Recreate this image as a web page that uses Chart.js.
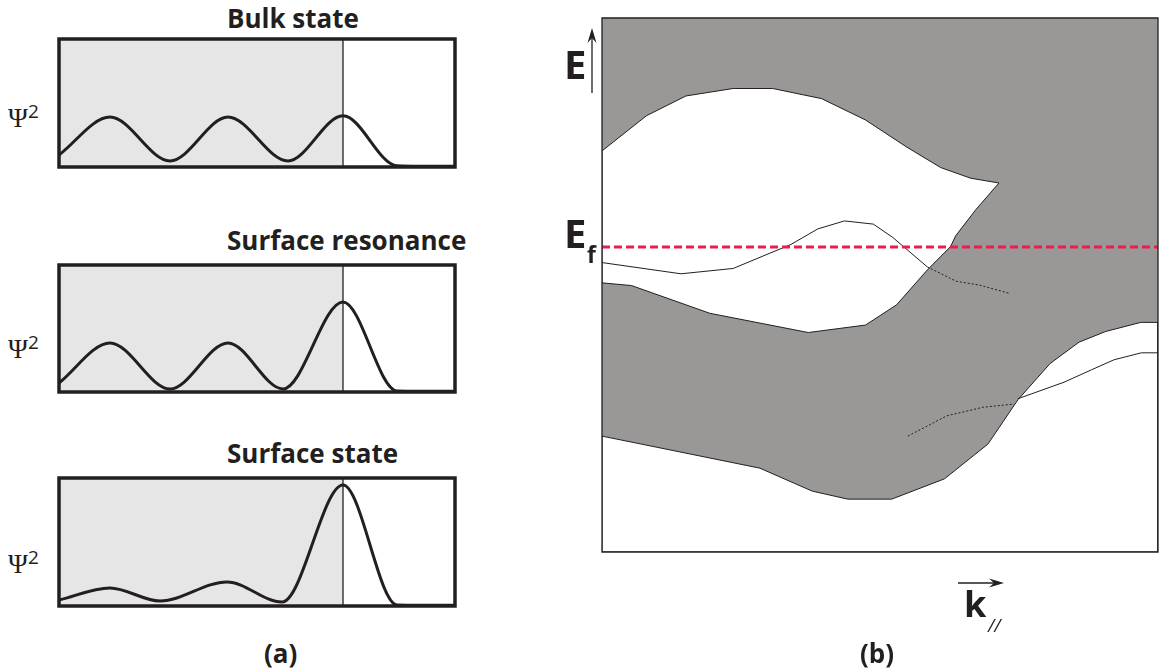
<!DOCTYPE html>
<html>
<head>
<meta charset="utf-8">
<script src="https://cdn.jsdelivr.net/npm/chart.js@4.4.0/dist/chart.umd.min.js"></script>
<style>
  body { margin: 0; width: 1163px; height: 672px; background: #fff; position: relative; overflow: hidden; font-family: "Open Sans", sans-serif; color: #231f20; }
  canvas, .lbl { position: absolute; }
  .lbl { line-height: 1; white-space: nowrap; font-weight: 700; }
  .title { font-size: 26px; left: 227px; }
  .psi { font-family: "Liberation Serif", serif; font-weight: 400; font-size: 27px; left: 8px; }
  .psi sup { font-family: "Open Sans", sans-serif; font-size: 19px; vertical-align: 9px; }
  .big { font-size: 40px; }
</style>
</head>
<body>
<div class="lbl title" style="top:5px">Bulk state</div>
<div class="lbl title" style="top:227px">Surface resonance</div>
<div class="lbl title" style="top:440px">Surface state</div>
<div class="lbl psi" style="top:102px">&Psi;<sup>2</sup></div>
<div class="lbl psi" style="top:333px">&Psi;<sup>2</sup></div>
<div class="lbl psi" style="top:548px">&Psi;<sup>2</sup></div>
<canvas id="bulkChart" width="416" height="148" style="left:49px;top:29px"></canvas>
<canvas id="resonanceChart" width="416" height="147" style="left:49px;top:255px"></canvas>
<canvas id="surfaceChart" width="416" height="148" style="left:49px;top:468px"></canvas>
<canvas id="bandChart" width="623" height="672" style="left:540px;top:0px"></canvas>
<div class="lbl big" style="left:564px;top:44px">E</div>
<div class="lbl big" style="left:564px;top:213px">E</div>
<div class="lbl" style="left:587px;top:243px;font-size:23px">f</div>
<div class="lbl" style="left:964px;top:586px;font-size:36px">k</div>
<div class="lbl" style="left:988px;top:616px;font-size:18px;font-style:italic;font-weight:400">//</div>
<div class="lbl" style="left:264px;top:640px;font-size:26px">(a)</div>
<div class="lbl" style="left:860px;top:640px;font-size:26px">(b)</div>
<script>
// ---- panel (a): |psi|^2 versus depth, surface at z = 0 ----
const depthMin = -28.4;
const depthMax = 11.2;
const surfaceZ = 0;

const bulkZ = [-28.4, -23.3, -17.3, -11.5, -5.5, 0, 5.4, 11.2];
const bulkPsi = [9.4, 39, 4.7, 39, 4.7, 40, 1, 0.5];

const resonanceZ = [-28.4, -23.3, -17.3, -11.5, -6.0, 0, 5.4, 11.2];
const resonancePsi = [7.1, 38.6, 2.4, 38.6, 2.4, 70.9, 0.8, 0.5];

const surfaceZs = [-28.4, -23.3, -18.3, -11.6, -6.1, 0, 5.4, 11.2];
const surfacePsi = [4.7, 14.1, 3.9, 18.8, 3.1, 94.5, 0.8, 0.5];

// ---- panel (b): projected bulk bands, k// (0..100) vs E (0..100) ----
const lensK = [0, 8.0, 15.1, 23.6, 30.7, 39.5, 47.4, 54.7, 60.9, 66.3, 71.4, 67.3, 63.6, 62.7, 58.5, 53.0, 47.4, 37.1, 19.4, 5.3, 0, 0];
const lensE = [75.1, 81.7, 85.4, 86.8, 86.8, 84.9, 80.9, 75.9, 72.0, 70.0, 69.1, 64.2, 59.2, 57.2, 52.8, 46.3, 42.5, 41.1, 44.7, 49.9, 50.4, 75.1];

const gapK = [0, 28.4, 37.8, 44.2, 52.1, 61.6, 69.4, 74.8, 80.6, 85.8, 90.6, 96.9, 100, 100, 0, 0];
const gapE = [21.7, 15.7, 11.4, 9.9, 9.9, 13.7, 20.2, 28.5, 35.3, 39.3, 41.3, 43.0, 43.0, 0, 0, 21.7];

const upperStateK = [0, 14.2, 23.6, 34.0, 38.8, 43.6, 48.8, 52.3, 58.5];
const upperStateE = [54.2, 52.1, 53.1, 57.6, 60.5, 62.0, 61.4, 58.9, 53.4];
const upperResK = [58.5, 63.7, 67.8, 73.4];
const upperResE = [53.4, 50.7, 50.0, 48.4];

const lowerStateK = [74.8, 83.1, 88.0, 92.1, 97.0, 100];
const lowerStateE = [28.7, 31.8, 34.1, 36.0, 37.3, 37.3];
const lowerResK = [55.0, 62.0, 68.5, 74.1];
const lowerResE = [21.7, 25.5, 27.1, 27.7];

const fermiE = 57.1;

const INK = "#231f20";

function pts(xs, ys) {
  return xs.map((x, i) => ({ x: x, y: ys[i] }));
}

function rect(x0, x1, y0, y1) {
  // repeat the first edge so every corner gets a mitred join
  return pts([x0, x1, x1, x0, x0, x1], [y0, y0, y1, y1, y0, y0]);
}

function baseOptions(xMin, xMax, padding) {
  return {
    animation: false,
    responsive: false,
    maintainAspectRatio: false,
    layout: { padding: padding },
    plugins: { legend: { display: false }, tooltip: { enabled: false } },
    elements: { point: { radius: 0, hoverRadius: 0 }, line: { tension: 0 } },
    scales: {
      x: { type: "linear", display: false, min: xMin, max: xMax },
      y: { type: "linear", display: false, min: 0, max: 100 }
    }
  };
}

function waveChart(id, zs, psi) {
  const el = document.getElementById(id);
  if (!el) return console.error(id + " canvas not found");
  new Chart(el.getContext("2d"), {
    type: "line",
    data: {
      datasets: [
        { data: rect(depthMin, surfaceZ, 0, 100).slice(0, 5), fill: "shape", backgroundColor: "#e6e6e6", borderWidth: 0, order: 5 },
        { data: pts([surfaceZ, surfaceZ], [0, 100]), borderColor: INK, borderWidth: 1.3, fill: false, order: 4 },
        { data: pts(zs, psi), borderColor: INK, borderWidth: 3, fill: false, cubicInterpolationMode: "monotone", order: 2 },
        { data: rect(depthMin, depthMax, 0, 100), borderColor: INK, borderWidth: 3.5, fill: false, clip: false, order: 1 }
      ]
    },
    options: baseOptions(depthMin, depthMax, 10)
  });
}

function drawArrow(ctx, x1, y1, x2, y2) {
  const ang = Math.atan2(y2 - y1, x2 - x1);
  const c = Math.cos(ang), s = Math.sin(ang);
  ctx.beginPath();
  ctx.moveTo(x1, y1);
  ctx.lineTo(x2 - 8 * c, y2 - 8 * s);
  ctx.stroke();
  ctx.beginPath();
  ctx.moveTo(x2, y2);
  ctx.lineTo(x2 - 15 * c + 4.5 * s, y2 - 15 * s - 4.5 * c);
  ctx.lineTo(x2 - 10 * c, y2 - 10 * s);
  ctx.lineTo(x2 - 15 * c - 4.5 * s, y2 - 15 * s + 4.5 * c);
  ctx.closePath();
  ctx.fill();
}

const axisArrows = {
  id: "axisArrows",
  afterDraw(chart) {
    const { ctx, chartArea: a } = chart;
    ctx.save();
    ctx.strokeStyle = INK;
    ctx.fillStyle = INK;
    ctx.lineWidth = 1.3;
    drawArrow(ctx, a.left - 10, a.top + 75, a.left - 10, a.top + 10);
    drawArrow(ctx, a.left + 356, a.bottom + 31, a.left + 402, a.bottom + 31);
    ctx.restore();
  }
};

function initBandChart() {
  const el = document.getElementById("bandChart");
  if (!el) return console.error("bandChart canvas not found");
  const thin = { borderColor: INK, borderWidth: 1, fill: false };
  new Chart(el.getContext("2d"), {
    type: "line",
    data: {
      datasets: [
        { data: rect(0, 100, 0, 100).slice(0, 5), fill: "shape", backgroundColor: "#999896", borderWidth: 0, order: 10 },
        { data: pts(lensK, lensE), fill: "shape", backgroundColor: "#ffffff", borderColor: INK, borderWidth: 1, order: 8 },
        { data: pts(gapK, gapE), fill: "shape", backgroundColor: "#ffffff", borderColor: INK, borderWidth: 1, order: 8 },
        { ...thin, data: pts(upperStateK, upperStateE), order: 6 },
        { ...thin, data: pts(upperResK, upperResE), borderDash: [2, 2], order: 6 },
        { ...thin, data: pts(lowerStateK, lowerStateE), order: 6 },
        { ...thin, data: pts(lowerResK, lowerResE), borderDash: [2, 2], order: 6 },
        { data: pts([0, 100], [fermiE, fermiE]), borderColor: "#e91e50", borderWidth: 3, borderDash: [8, 4], fill: false, order: 3 },
        { data: rect(0, 100, 0, 100), borderColor: INK, borderWidth: 1.3, fill: false, clip: false, order: 1 }
      ]
    },
    options: baseOptions(0, 100, { left: 62, top: 18, right: 5, bottom: 120 }),
    plugins: [axisArrows]
  });
}

document.addEventListener("DOMContentLoaded", () => {
  waveChart("bulkChart", bulkZ, bulkPsi);
  waveChart("resonanceChart", resonanceZ, resonancePsi);
  waveChart("surfaceChart", surfaceZs, surfacePsi);
  initBandChart();
});
</script>
</body>
</html>
